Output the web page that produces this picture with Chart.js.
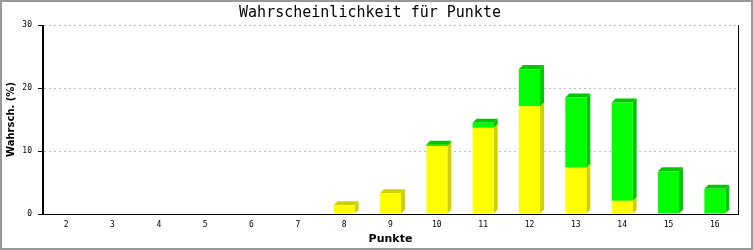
<!DOCTYPE html>
<html>
<head>
<meta charset="utf-8">
<script src="https://cdn.jsdelivr.net/npm/chart.js@4"></script>
<style>
  html, body { margin: 0; padding: 0; background: #fff; }
  #wrap { width: 753px; height: 250px; box-sizing: border-box; border: 2px solid #999; position: relative; }
</style>
</head>
<body>
<div id="wrap"><canvas id="chart"></canvas></div>
<script>
// Data
const categories = ['2', '3', '4', '5', '6', '7', '8', '9', '10', '11', '12', '13', '14', '15', '16'];
const yellowValues = [0, 0, 0, 0, 0, 0, 1.4, 3.3, 10.8, 13.7, 17.1, 7.4, 2.1, 0.1, 0];
const greenValues  = [0, 0, 0, 0, 0, 0, 0, 0, 0.2, 0.8, 5.9, 11.1, 15.6, 6.7, 4.0];
const yTicks = [0, 10, 20, 30];

const sideColors = ['#d2d000', '#00c800'];
const depth = 4;

// draws the side and top faces for the 3d look, fronts are drawn by chart.js afterwards
const depthPlugin = {
    id: 'depth',
    beforeDatasetsDraw(chart) {
        const ctx = chart.ctx;
        chart.data.datasets.forEach((ds, i) => {
            const meta = chart.getDatasetMeta(i);
            meta.data.forEach((bar, j) => {
                if (!ds.data[j]) return;
                const p = bar.getProps(['x', 'y', 'base', 'width'], true);
                const l = p.x - p.width / 2, r = p.x + p.width / 2;
                const top = Math.min(p.y, p.base), bot = Math.max(p.y, p.base);
                ctx.save();
                ctx.fillStyle = sideColors[i];
                ctx.beginPath();
                ctx.moveTo(r, bot);
                ctx.lineTo(r + depth, bot - depth);
                ctx.lineTo(r + depth, top - depth);
                ctx.lineTo(r, top);
                ctx.closePath();
                ctx.fill();
                ctx.beginPath();
                ctx.moveTo(l, top);
                ctx.lineTo(l + depth, top - depth);
                ctx.lineTo(r + depth, top - depth);
                ctx.lineTo(r, top);
                ctx.closePath();
                ctx.fill();
                ctx.restore();
            });
        });
    },
    afterDraw(chart) {
        // right frame line + solid left axis
        const a = chart.chartArea, ctx = chart.ctx;
        ctx.save();
        ctx.strokeStyle = '#000';
        ctx.lineWidth = 1;
        ctx.setLineDash([]);
        ctx.beginPath();
        ctx.moveTo(Math.round(a.right) + 0.5, a.top);
        ctx.lineTo(Math.round(a.right) + 0.5, a.bottom);
        ctx.moveTo(Math.round(a.left) - 0.5, a.top);
        ctx.lineTo(Math.round(a.left) - 0.5, a.bottom);
        ctx.stroke();
        ctx.restore();
    }
};

const ctx = document.getElementById('chart').getContext('2d');
new Chart(ctx, {
    type: 'bar',
    data: {
        labels: categories,
        datasets: [
            { label: 'gelb', data: yellowValues, backgroundColor: '#ffff00', borderWidth: 0 },
            { label: 'grün', data: greenValues, backgroundColor: '#00ff00', borderWidth: 0 }
        ]
    },
    options: {
        responsive: true,
        maintainAspectRatio: false,
        animation: false,
        layout: { padding: { left: 0, right: 13, top: 0, bottom: 0 } },
        datasets: { bar: { categoryPercentage: 1, barPercentage: 0.453 } },
        plugins: {
            legend: { display: false },
            tooltip: { enabled: false },
            title: {
                display: true,
                text: 'Wahrscheinlichkeit für Punkte',
                color: '#000',
                font: { family: 'DejaVu Sans Mono', size: 15, weight: 'normal' },
                padding: { top: 2, bottom: 3 }
            }
        },
        scales: {
            x: {
                stacked: true,
                grid: { display: false, drawTicks: false },
                border: { display: true, color: '#000', width: 1 },
                ticks: { color: '#000', padding: 6, maxRotation: 0, autoSkip: false,
                         font: { family: 'DejaVu Sans Mono', size: 8 } },
                title: { display: true, text: 'Punkte', color: '#000',
                         font: { family: 'DejaVu Sans', size: 11, weight: 'bold' },
                         padding: { top: 0, bottom: 2 } },
                afterFit(scale) { scale.height = 34; }
            },
            y: {
                stacked: true,
                min: 0,
                max: 30,
                afterBuildTicks(scale) { scale.ticks = yTicks.map(v => ({ value: v })); },
                grid: { color: '#bbb', tickColor: '#000', tickBorderDash: [],
                        tickLength: 5, lineWidth: 1 },
                border: { display: true, color: '#000', width: 1, dash: [2, 3] },
                ticks: { color: '#000', padding: 6,
                         font: { family: 'DejaVu Sans Mono', size: 8 } },
                title: { display: true, text: 'Wahrsch. (%)', color: '#000',
                         font: { family: 'DejaVu Sans', size: 10, weight: 'bold' },
                         padding: { top: 3, bottom: 0 } },
                afterFit(scale) { scale.width = 41; }
            }
        }
    },
    plugins: [depthPlugin]
});
</script>
</body>
</html>
